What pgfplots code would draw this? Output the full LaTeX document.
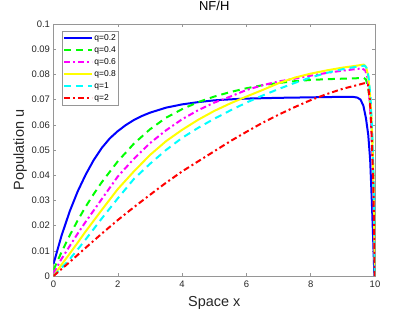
\documentclass[border=0pt]{standalone}
\usepackage{fontspec}
\setmainfont{Liberation Sans}
\usepackage{pgfplots}
\pgfplotsset{compat=1.18}
\definecolor{axgray}{RGB}{150,150,150}
\definecolor{txtgray}{RGB}{38,38,38}
\definecolor{cB}{RGB}{0,0,255}
\definecolor{cG}{RGB}{0,255,0}
\definecolor{cM}{RGB}{255,0,255}
\definecolor{cY}{RGB}{255,255,0}
\definecolor{cC}{RGB}{0,255,255}
\definecolor{cR}{RGB}{255,0,0}
\pgfplotsset{
  my legend/.style={legend image code/.code={\draw[##1] (0bp,0bp) -- (28bp,0bp);}},
}
\begin{document}
\begin{tikzpicture}
\useasboundingbox (-53.5bp,-36bp) rectangle (361.5bp,276bp);
\begin{axis}[
  scale only axis, width=321.5bp, height=252bp,
  xmin=0, xmax=10, ymin=0, ymax=0.1,
  xtick={0,2,4,6,8,10},
  ytick={0,0.01,0.02,0.03,0.04,0.05,0.06,0.07,0.08,0.09,0.1},
  scaled y ticks=false,
  yticklabel style={/pgf/number format/fixed,/pgf/number format/precision=2},
  /pgf/number format/assume math mode=true,
  tick label style={font=\fontsize{9.5}{11}\selectfont, text=txtgray},
  xticklabel style={yshift=-1.5bp},
  axis line style={axgray}, tick style={axgray, line width=0.5bp}, major tick length=3bp,
  tick align=inside,
  xlabel={Space x}, ylabel={Population u}, title={NF/H},
  label style={font=\fontsize{14.5}{16}\selectfont, text=txtgray},
  title style={font=\fontsize{13}{15}\selectfont, text=black, at={(axis description cs:0.5,1.048)}, anchor=center},
  xlabel style={at={(axis description cs:0.5,-0.107)}, anchor=center},
  ylabel style={at={(axis description cs:-0.104,0.5)}, anchor=center},
  legend style={at={(rel axis cs:0.0255,0.972)}, anchor=north west, draw=axgray,
    font=\fontsize{8.5}{9}\selectfont, text=black, inner sep=1bp, row sep=0pt,
    nodes={inner ysep=1.6bp, inner xsep=1.5bp, text height=6.5bp, text depth=2.3bp}},
  legend cell align=left,
  my legend,
  every axis plot/.append style={line width=2bp, line join=round},
]
\addplot[cB] coordinates {
(0,0.0048) (0.25,0.0160) (0.5,0.0255) (0.75,0.0335) (1,0.0402) (1.25,0.0460) (1.5,0.0508)
(1.75,0.0546) (2,0.0575) (2.25,0.0599) (2.5,0.0619) (2.75,0.0635) (3,0.0648) (3.5,0.0668) (4,0.0681)
(4.5,0.0690) (5,0.0697) (5.5,0.0701) (6,0.0704) (7,0.0707) (8,0.0709) (9,0.0711) (9.3,0.0711)
(9.45,0.0708) (9.55,0.0700) (9.64,0.0675) (9.72,0.0625) (9.79,0.0560) (9.85,0.0460)
(9.9,0.030) (9.95,0.012) (9.98,0)};
\addlegendentry{q=0.2}
\addplot[cG, dash pattern=on 7bp off 5bp] coordinates {
(0,0.0024) (0.25,0.0095) (0.5,0.0160) (0.75,0.0220) (1,0.0275) (1.25,0.0325) (1.5,0.0372)
(2,0.0455) (2.5,0.0525) (3,0.0582) (3.5,0.0628) (4,0.0662) (4.5,0.0690) (5,0.0712)
(5.5,0.0730) (6,0.0745) (6.5,0.0757) (7,0.0766) (7.5,0.0773) (8,0.0778) (8.5,0.0781)
(9,0.0783) (9.5,0.0785) (9.65,0.0786) (9.72,0.0780) (9.79,0.0745) (9.85,0.068)
(9.9,0.060) (9.95,0.040) (10,0)};
\addlegendentry{q=0.4}
\addplot[cM, dash pattern=on 6bp off 3bp on 2bp off 3bp] coordinates {
(0,0.001) (0.25,0.0068) (0.5,0.0118) (0.75,0.0168) (1,0.0215) (1.5,0.0305) (2,0.0395)
(2.5,0.0465) (3,0.0527) (3.5,0.0578) (4,0.0622) (4.5,0.0658) (5,0.0688) (5.5,0.0712)
(6,0.0738) (6.5,0.0757) (7,0.0772) (7.5,0.0783) (8,0.0795) (8.5,0.0806) (9,0.0815)
(9.4,0.0821) (9.6,0.0824) (9.7,0.0815) (9.76,0.079) (9.82,0.072) (9.88,0.060)
(9.94,0.040) (10,0)};
\addlegendentry{q=0.6}
\addplot[cY] coordinates {
(0,0) (0.25,0.0045) (0.5,0.0088) (0.75,0.0132) (1,0.0177) (1.5,0.0262) (2,0.0345)
(2.5,0.0415) (3,0.0480) (3.5,0.0535) (4,0.0580) (4.5,0.0620) (5,0.0655) (5.5,0.0685)
(6,0.0712) (6.5,0.0738) (7,0.0765) (7.5,0.0787) (8,0.0803) (8.5,0.0816) (9,0.0827)
(9.4,0.0834) (9.65,0.0839) (9.72,0.0830) (9.78,0.080) (9.84,0.073) (9.9,0.060)
(9.95,0.040) (10,0)};
\addlegendentry{q=0.8}
\addplot[cC, dash pattern=on 7bp off 5bp] coordinates {
(0,0) (0.25,0.0032) (0.5,0.0066) (0.75,0.0105) (1,0.0145) (1.5,0.0228) (2,0.0308)
(2.5,0.0385) (3,0.0445) (3.5,0.0500) (4,0.0548) (4.5,0.0588) (5,0.0624) (5.5,0.0657)
(6,0.0688) (6.5,0.0716) (7,0.0742) (7.5,0.0766) (8,0.0788) (8.5,0.0806) (9,0.0821)
(9.4,0.0830) (9.68,0.0835) (9.74,0.0825) (9.8,0.079) (9.86,0.071) (9.92,0.055)
(9.97,0.030) (10,0)};
\addlegendentry{q=1}
\addplot[cR, dash pattern=on 6bp off 3bp on 2bp off 3bp] coordinates {
(0,0) (0.5,0.0055) (1,0.0112) (1.5,0.0168) (2,0.0222) (2.5,0.0273) (3,0.0322)
(3.5,0.0370) (4,0.0415) (4.5,0.0455) (5,0.0495) (5.5,0.0535) (6,0.0572) (6.5,0.0608)
(7,0.0640) (7.5,0.0670) (8,0.0698) (8.5,0.0722) (9,0.0743) (9.4,0.0756) (9.7,0.0766)
(9.78,0.0760) (9.84,0.070) (9.9,0.055) (9.95,0.035) (10,0)};
\addlegendentry{q=2}
\end{axis}
\end{tikzpicture}
\end{document}
